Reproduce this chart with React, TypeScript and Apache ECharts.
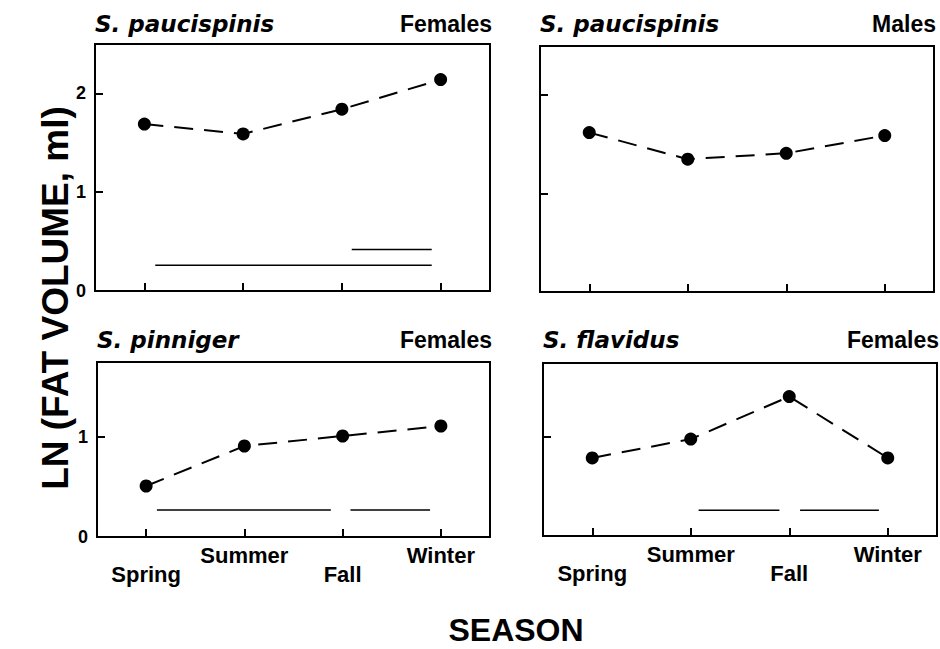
import React, { useEffect, useRef } from 'react';
import * as echarts from 'echarts';

const seasons = ['Spring', 'Summer', 'Fall', 'Winter'];

const paucispinisFemales = [1.69, 1.59, 1.84, 2.14];
const paucispinisMales = [1.62, 1.35, 1.41, 1.59];
const pinnigerFemales = [0.51, 0.91, 1.01, 1.11];
const flavidusFemales = [0.79, 0.98, 1.41, 0.79];

// significance bars: [xStart, xEnd, y] in season-index units
const paucispinisFemalesBars = [[0.11, 2.91, 0.26], [2.1, 2.91, 0.42]];
const paucispinisMalesBars: number[][] = [];
const pinnigerFemalesBars = [[0.11, 1.88, 0.27], [2.08, 2.89, 0.27]];
const flavidusFemalesBars = [[1.08, 1.9, 0.26], [2.11, 2.91, 0.26]];

const topYMax = 2.5;
const bottomYMax = 1.75;

const FONT = '"Liberation Sans", Arial, Helvetica, sans-serif';
const WIDE_FONT = '"DejaVu Sans", Verdana, sans-serif';

const panels = [
  { species: 'S. paucispinis', sex: 'Females', values: paucispinisFemales, bars: paucispinisFemalesBars, yMax: topYMax, yLabels: true, xLabels: false, grid: { left: 95, top: 44, width: 395, height: 247 } },
  { species: 'S. paucispinis', sex: 'Males', values: paucispinisMales, bars: paucispinisMalesBars, yMax: topYMax, yLabels: false, xLabels: false, grid: { left: 540, top: 46, width: 394, height: 246 } },
  { species: 'S. pinniger', sex: 'Females', values: pinnigerFemales, bars: pinnigerFemalesBars, yMax: bottomYMax, yLabels: true, xLabels: true, grid: { left: 97, top: 362, width: 393, height: 175 } },
  { species: 'S. flavidus', sex: 'Females', values: flavidusFemales, bars: flavidusFemalesBars, yMax: bottomYMax, yLabels: false, xLabels: true, grid: { left: 543, top: 363, width: 394, height: 173 } },
];

export default function App() {
  const ref = useRef<HTMLDivElement>(null);
  useEffect(() => {
    if (!ref.current) return;
    const chart = echarts.init(ref.current, undefined, { renderer: 'svg' });
    const grid: any[] = [];
    const xAxis: any[] = [];
    const yAxis: any[] = [];
    const series: any[] = [];
    const graphic: any[] = [];
    panels.forEach((p, i) => {
      grid.push({ ...p.grid, show: true, borderColor: '#000', borderWidth: 2, backgroundColor: 'transparent' });
      xAxis.push({
        type: 'category', gridIndex: i, data: seasons, boundaryGap: true, position: 'bottom',
        axisLine: { show: true, onZero: false, lineStyle: { color: '#000', width: 2 } },
        axisTick: { show: true, inside: true, alignWithLabel: true, length: 8, lineStyle: { color: '#000', width: 2 } },
        axisLabel: {
          show: p.xLabels, interval: 0, margin: 9, fontSize: 22, fontWeight: 'bold', color: '#000', fontFamily: FONT, lineHeight: 19,
          formatter: (v: string, idx: number) => (idx % 2 === 0 ? '\n' + v : v),
        },
        splitLine: { show: false },
      });
      xAxis.push({ type: 'value', gridIndex: i, min: -0.5, max: 3.5, show: false, position: 'top' });
      yAxis.push({
        type: 'value', gridIndex: i, min: 0, max: p.yMax, interval: 1, position: 'left',
        axisLine: { show: true, onZero: false, lineStyle: { color: '#000', width: 2 } },
        axisTick: { show: true, inside: true, length: 8, lineStyle: { color: '#000', width: 2 } },
        axisLabel: {
          show: p.yLabels, showMaxLabel: false, margin: 9, fontSize: 18, fontWeight: 'bold', color: '#000', fontFamily: FONT,
          formatter: (v: number) => (Number.isInteger(v) ? String(v) : ''),
        },
        splitLine: { show: false },
      });
      series.push({
        type: 'line', xAxisIndex: 2 * i, yAxisIndex: i, data: p.values,
        symbol: 'circle', symbolSize: 13, itemStyle: { color: '#000' },
        lineStyle: { color: '#000', width: 2, type: [19, 11] },
      });
      p.bars.forEach((b) => {
        series.push({
          type: 'line', xAxisIndex: 2 * i + 1, yAxisIndex: i, data: [[b[0], b[2]], [b[1], b[2]]],
          symbol: 'none', lineStyle: { color: '#000', width: 1.5, type: 'solid' },
        });
      });
      const g = p.grid;
      const ty = i < 2 ? 24 : 340;
      graphic.push({
        type: 'text', x: g.left, y: ty,
        style: { text: p.species, fill: '#000', fontSize: 23, fontWeight: 'bold', fontStyle: 'italic', fontFamily: WIDE_FONT, align: 'left', verticalAlign: 'middle' },
      });
      graphic.push({
        type: 'text', x: g.left + g.width + 2, y: ty,
        style: { text: p.sex, fill: '#000', fontSize: 23, fontWeight: 'bold', fontFamily: FONT, align: 'right', verticalAlign: 'middle' },
      });
    });
    graphic.push({
      type: 'text', x: 55, y: 298, rotation: Math.PI / 2,
      style: { text: 'LN (FAT VOLUME, ml)', fill: '#000', fontSize: 37, fontWeight: 'bold', fontFamily: FONT, align: 'center', verticalAlign: 'middle' },
    });
    graphic.push({
      type: 'text', x: 516, y: 630,
      style: { text: 'SEASON', fill: '#000', fontSize: 32, fontWeight: 'bold', fontFamily: FONT, align: 'center', verticalAlign: 'middle' },
    });
    chart.setOption({
      animation: false,
      backgroundColor: '#fff',
      grid, xAxis, yAxis, series, graphic,
    });
    return () => chart.dispose();
  }, []);
  return <div ref={ref} style={{ position: 'fixed', left: 0, top: 0, width: 940, height: 649 }} />;
}
